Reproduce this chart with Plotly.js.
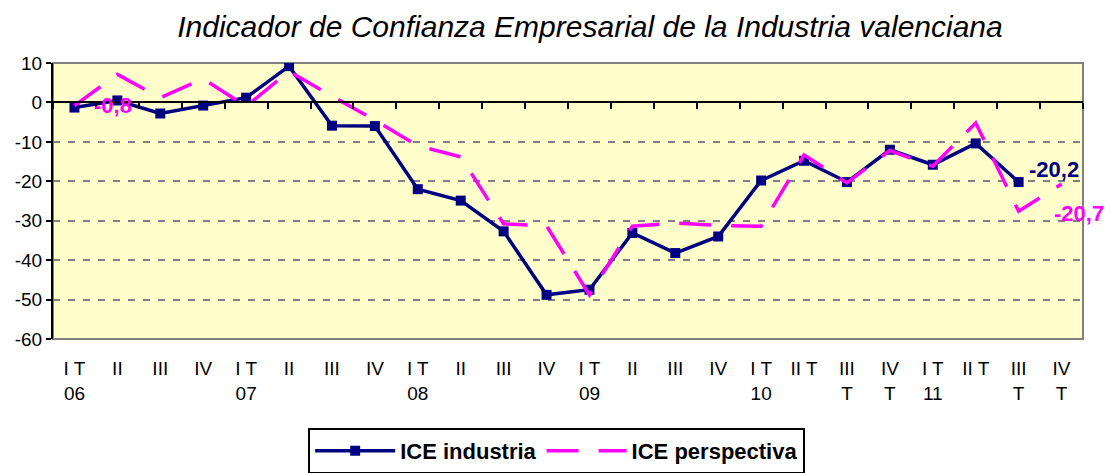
<!DOCTYPE html>
<html>
<head>
<meta charset="utf-8">
<script src="https://cdn.plot.ly/plotly-3.0.1.min.js"></script>
<style>html,body{margin:0;padding:0;background:#fff;}#chart{width:1109px;height:473px;}</style>
</head>
<body>
<div id="chart"></div>
<script>
// Category ids (quarters) and their displayed tick labels
const categories = ["2006T1","2006T2","2006T3","2006T4","2007T1","2007T2","2007T3","2007T4",
  "2008T1","2008T2","2008T3","2008T4","2009T1","2009T2","2009T3","2009T4",
  "2010T1","2010T2","2010T3","2010T4","2011T1","2011T2","2011T3","2011T4"];
const tickLabels = ["I T<br>06","II","III","IV","I T<br>07","II","III","IV",
  "I T<br>08","II","III","IV","I T<br>09","II","III","IV",
  "I T<br>10","II T","III<br>T","IV<br>T","I T<br>11","II T","III<br>T","IV<br>T"];

// Series values
const iceIndustria = [-1.3, 0.5, -2.8, -0.8, 1.2, 9.2, -5.9, -6.0,
  -22.0, -24.9, -32.7, -48.8, -47.5, -33.1, -38.2, -34.0,
  -19.8, -14.8, -20.2, -12.0, -15.8, -10.4, -20.2];
const icePerspectiva = [-0.8, 7.1, 1.2, 6.0, -1.0, 7.9, 1.6, -4.5,
  -11.0, -13.8, -30.8, -31.3, -48.8, -31.4, -30.6, -31.2,
  -31.4, -13.3, -20.4, -12.2, -16.2, -5.2, -27.6, -20.7];

// Y axis ticks
const yTickVals = [10, 0, -10, -20, -30, -40, -50, -60];
const yTickLabels = ["10", "0", "-10", "-20", "-30", "-40", "-50", "-60"];

const fmt = v => v.toFixed(1).replace('.', ',');
const FONT = "Liberation Sans, Arial, sans-serif";
const yMin = -60, yMax = 10;

const traces = [
  {
    name: "ICE industria",
    x: categories.slice(0, iceIndustria.length),
    y: iceIndustria,
    type: "scatter",
    mode: "lines+markers",
    line: {color: "#000080", width: 3.5},
    marker: {symbol: "square", size: 10, color: "#000080"},
    hoverinfo: "skip"
  },
  {
    name: "ICE perspectiva",
    x: categories,
    y: icePerspectiva,
    type: "scatter",
    mode: "lines",
    line: {color: "#FF00FF", width: 3.5, dash: "32px,20px"},
    hoverinfo: "skip"
  },
  {
    // carrier for the category axis drawn along y = 0
    x: categories,
    y: categories.map(() => null),
    xaxis: "x2",
    type: "scatter",
    mode: "lines",
    showlegend: false,
    hoverinfo: "skip"
  }
];

const last = iceIndustria.length - 1;
const lastP = icePerspectiva.length - 1;

const layout = {
  width: 1109,
  height: 473,
  margin: {l: 53, r: 26, t: 63, b: 134, autoexpand: false},
  paper_bgcolor: "#ffffff",
  plot_bgcolor: "#FFFFCC",
  font: {family: FONT, size: 19, color: "#000"},
  title: {
    text: "Indicador de Confianza Empresarial de la Industria valenciana",
    font: {family: FONT, size: 30, style: "italic", color: "#000"},
    xref: "container", x: 0.532, xanchor: "center",
    yref: "container", y: 0.945, yanchor: "middle"
  },
  xaxis: {
    type: "category",
    categoryorder: "array",
    categoryarray: categories,
    range: [-0.5, categories.length - 0.5],
    tickvals: categories,
    ticktext: tickLabels,
    ticks: "",
    showgrid: false,
    zeroline: false,
    showline: false,
    tickfont: {family: FONT, size: 19},
    ticklabelstandoff: 16
  },
  xaxis2: {
    type: "category",
    overlaying: "x",
    anchor: "free",
    position: (0 - yMin) / (yMax - yMin),
    side: "bottom",
    categoryorder: "array",
    categoryarray: categories,
    range: [-0.5, categories.length - 0.5],
    tickson: "boundaries",
    ticks: "outside",
    ticklen: 6,
    tickwidth: 2,
    tickcolor: "#000",
    showticklabels: false,
    showline: true,
    linecolor: "#000",
    linewidth: 2,
    showgrid: false,
    zeroline: false
  },
  yaxis: {
    range: [yMin, yMax],
    tickvals: yTickVals,
    ticktext: yTickLabels,
    ticks: "outside",
    ticklen: 5,
    tickwidth: 2,
    tickcolor: "#000",
    showline: true,
    linecolor: "#000",
    linewidth: 2,
    showgrid: true,
    gridcolor: "#808080",
    gridwidth: 2,
    griddash: "7px,8px",
    zeroline: false,
    tickfont: {family: FONT, size: 19}
  },
  shapes: [
    {type: "rect", xref: "paper", yref: "paper", x0: 0, x1: 1, y0: 0, y1: 1,
     line: {color: "#808080", width: 2}, layer: "below"}
  ],
  legend: {
    orientation: "h",
    x: 0.489, xanchor: "center",
    y: -0.322, yanchor: "top",
    bgcolor: "#ffffff",
    bordercolor: "#000",
    borderwidth: 2,
    itemwidth: 80,
    font: {family: FONT, size: 22, weight: "bold", color: "#000"}
  },
  annotations: [
    {x: categories[0], y: icePerspectiva[0], text: fmt(icePerspectiva[0]),
     showarrow: false, xanchor: "left", yanchor: "middle", xshift: 18, yshift: 0,
     font: {family: FONT, size: 22, weight: "bold", color: "#FF00FF"}},
    {x: categories[last], y: iceIndustria[last], text: fmt(iceIndustria[last]),
     showarrow: false, xanchor: "left", yanchor: "middle", xshift: 8, yshift: 13,
     font: {family: FONT, size: 22, weight: "bold", color: "#000080"}},
    {x: categories[lastP], y: icePerspectiva[lastP], text: fmt(icePerspectiva[lastP]),
     showarrow: false, xanchor: "center", yanchor: "middle", xshift: 17, yshift: -29,
     font: {family: FONT, size: 22, weight: "bold", color: "#FF00FF"}}
  ]
};

Plotly.newPlot("chart", traces, layout, {staticPlot: true, displayModeBar: false});
</script>
</body>
</html>
